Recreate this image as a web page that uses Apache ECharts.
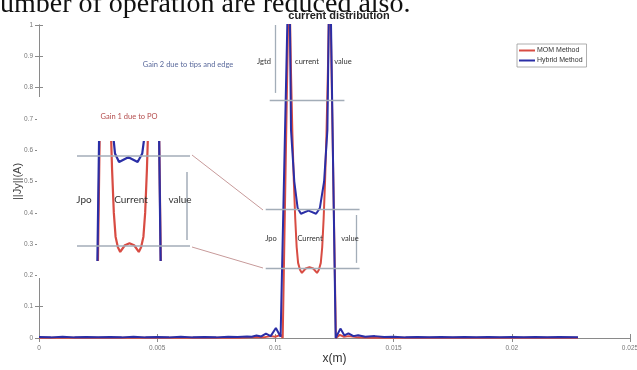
<!DOCTYPE html>
<html>
<head>
<meta charset="utf-8">
<script src="https://cdn.jsdelivr.net/npm/echarts@6/dist/echarts.min.js"></script>
<style>
  html, body { margin: 0; padding: 0; background: #fff; }
  #chart { width: 637px; height: 370px; }
</style>
</head>
<body>
<div id="chart"></div>
<script>
// tick labels
const xTickLabels = ['0', '0.005', '0.01', '0.015', '0.02', '0.025'];
const yTickLabels = ['0', '0.1', '0.2', '0.3', '0.4', '0.5', '0.6', '0.7', '0.8', '0.9', '1'];

// Hybrid Method, [x (m), ||Jy|| (A)]
const hybridPoints = [
  [0, 0.003], [0.0005, 0.002], [0.001, 0.004], [0.0015, 0.002], [0.002, 0.003], [0.0025, 0.002],
  [0.003, 0.003], [0.0035, 0.002], [0.004, 0.004], [0.0045, 0.002], [0.005, 0.003], [0.0055, 0.002],
  [0.006, 0.004], [0.0065, 0.002], [0.007, 0.003], [0.0075, 0.002], [0.008, 0.004], [0.0084, 0.003],
  [0.0088, 0.005], [0.009, 0.004], [0.0092, 0.008], [0.0094, 0.005], [0.0096, 0.014], [0.0098, 0.006],
  [0.01002, 0.032], [0.01022, 0.004], [0.01029, 0],
  [0.01058, 1.27], [0.01066, 0.665], [0.0108, 0.5], [0.01094, 0.415], [0.01108, 0.397],
  [0.0114, 0.407], [0.01172, 0.397], [0.01188, 0.415], [0.01206, 0.5], [0.0122, 0.665], [0.0123, 1.27],
  [0.01255, 0], [0.01262, 0.004], [0.01275, 0.03], [0.01292, 0.008], [0.01309, 0.015], [0.0133, 0.006],
  [0.0135, 0.009], [0.0138, 0.004], [0.0142, 0.006], [0.0146, 0.003], [0.015, 0.004], [0.0155, 0.002],
  [0.016, 0.003], [0.0165, 0.002], [0.017, 0.003], [0.0175, 0.002], [0.018, 0.003], [0.0185, 0.002],
  [0.019, 0.003], [0.0195, 0.002], [0.02, 0.003], [0.0205, 0.002], [0.021, 0.003], [0.0215, 0.002],
  [0.022, 0.003], [0.0228, 0.002]
];

// MOM Method
const momPoints = [
  [0, 0.001], [0.005, 0.001], [0.0085, 0.001], [0.0092, 0.003], [0.0095, 0.002], [0.0098, 0.006],
  [0.01, 0.004], [0.01022, 0.01], [0.01031, 0],
  [0.01058, 1.2], [0.01066, 0.85], [0.01072, 0.65], [0.01078, 0.5], [0.01084, 0.38], [0.0109, 0.29],
  [0.01096, 0.24], [0.01104, 0.218], [0.01112, 0.208], [0.01128, 0.222], [0.01144, 0.226],
  [0.0116, 0.222], [0.01176, 0.208], [0.01184, 0.218], [0.01192, 0.24], [0.01198, 0.29],
  [0.01204, 0.38], [0.0121, 0.5], [0.01216, 0.65], [0.01222, 0.85], [0.0123, 1.2],
  [0.01256, 0], [0.01272, 0.01], [0.0129, 0.004], [0.0131, 0.006], [0.0135, 0.002], [0.014, 0.001],
  [0.0228, 0.001]
];

// annotation guides drawn on the main axes (data coords)
const mainGuides = [
  [[0.01001, 1.0], [0.01001, 0.783]],
  [[0.00976, 0.76], [0.01292, 0.76]],
  [[0.00959, 0.411], [0.01356, 0.411]],
  [[0.00959, 0.224], [0.01356, 0.224]],
  [[0.01343, 0.393], [0.01343, 0.24]]
];
const insetLevels = [0.411, 0.224];
const insetBracket = [[0.013423, 0.376], [0.013423, 0.233]];

const RED = '#d84c43';
const BLUE = '#2a2ea6';
const GUIDE = '#a3adb8';
const AXIS = '#8a8a8a';
const FONT = 'Liberation Sans';

const chart = echarts.init(document.getElementById('chart'));

const guideLine = (pairs) => pairs.map((p) => [{ coord: p[0] }, { coord: p[1] }]);
const note = (text, x, y, size, fill) => ({
  type: 'text', x, y, z: 10,
  style: { text, font: size + 'px Lato', fill, align: 'center', verticalAlign: 'middle' }
});

chart.setOption({
  animation: false,
  title: {
    text: 'current distribution',
    left: 334,
    top: 5,
    textAlign: 'center',
    textStyle: { fontFamily: FONT, fontSize: 11, fontWeight: 'bold', color: '#222' }
  },
  legend: {
    data: ['MOM Method', 'Hybrid Method'],
    orient: 'vertical',
    left: 517,
    top: 44,
    icon: 'rect',
    itemWidth: 16,
    itemHeight: 2,
    itemGap: 3,
    padding: [3, 4, 3, 2],
    borderColor: '#9a9a9a',
    borderWidth: 0.8,
    backgroundColor: '#fff',
    textStyle: { fontFamily: FONT, fontSize: 7, color: '#333', padding: [0, 0, 0, -3] }
  },
  grid: [
    { left: 39, right: 7, top: 25, bottom: 32, outerBoundsMode: 'none' },
    { left: 77, width: 113, top: 142, height: 118, outerBoundsMode: 'none' }
  ],
  xAxis: [
    {
      gridIndex: 0, type: 'value', min: 0, max: 0.025, interval: 0.005,
      name: 'x(m)', nameLocation: 'middle', nameGap: 15, nameMoveOverlap: false,
      nameTextStyle: { fontFamily: FONT, fontSize: 12, color: '#333' },
      axisLine: { lineStyle: { color: AXIS, width: 1 } },
      axisTick: { inside: true, length: 4, lineStyle: { color: AXIS } },
      axisLabel: {
        fontFamily: FONT, fontSize: 6.5, color: '#777', margin: 7,
        formatter: (v) => xTickLabels[Math.round(v / 0.005)]
      },
      splitLine: { show: false }
    },
    {
      gridIndex: 0, type: 'value', min: 0, max: 0.025, interval: 0.005, position: 'top',
      axisLine: { lineStyle: { color: AXIS, width: 1 } },
      axisTick: { inside: true, length: 4, lineStyle: { color: AXIS } },
      axisLabel: { show: false },
      splitLine: { show: false }
    },
    { gridIndex: 1, type: 'value', min: 0.00963, max: 0.013526, show: false }
  ],
  yAxis: [
    {
      gridIndex: 0, type: 'value', min: 0, max: 1, interval: 0.1,
      name: '||Jy||(A)', nameLocation: 'middle', nameGap: 15.5, nameMoveOverlap: false,
      nameTextStyle: { fontFamily: FONT, fontSize: 11, color: '#444' },
      axisLine: { show: true, lineStyle: { color: AXIS, width: 1 } },
      axisTick: { show: true, inside: true, length: 4, lineStyle: { color: AXIS } },
      axisLabel: {
        fontFamily: FONT, fontSize: 6.5, color: '#777', margin: 6,
        formatter: (v) => yTickLabels[Math.round(v * 10)]
      },
      splitLine: { show: false }
    },
    {
      gridIndex: 0, type: 'value', min: 0, max: 1, interval: 0.1, position: 'right',
      axisLine: { show: true, lineStyle: { color: AXIS, width: 1 } },
      axisTick: { show: true, inside: true, length: 4, lineStyle: { color: AXIS } },
      axisLabel: { show: false },
      splitLine: { show: false }
    },
    { gridIndex: 1, type: 'value', min: 0.191, max: 0.439, show: false }
  ],
  series: [
    {
      name: 'MOM Method', type: 'line', xAxisIndex: 0, yAxisIndex: 0,
      data: momPoints, symbol: 'none', lineStyle: { color: RED, width: 2 }, itemStyle: { color: RED }
    },
    {
      name: 'Hybrid Method', type: 'line', xAxisIndex: 0, yAxisIndex: 0,
      data: hybridPoints, symbol: 'none', lineStyle: { color: BLUE, width: 2 }, itemStyle: { color: BLUE },
      markLine: {
        silent: true, symbol: 'none', label: { show: false },
        lineStyle: { color: GUIDE, width: 1.3, type: 'solid' },
        data: guideLine(mainGuides)
      }
    },
    {
      name: 'MOM Method', type: 'line', xAxisIndex: 2, yAxisIndex: 2, z: 4,
      data: momPoints, symbol: 'none', lineStyle: { color: RED, width: 2.2 }, itemStyle: { color: RED }
    },
    {
      name: 'Hybrid Method', type: 'line', xAxisIndex: 2, yAxisIndex: 2, z: 4,
      data: hybridPoints, symbol: 'none', lineStyle: { color: BLUE, width: 2.2 }, itemStyle: { color: BLUE },
      markLine: {
        silent: true, symbol: 'none', label: { show: false },
        lineStyle: { color: GUIDE, width: 1.5, type: 'solid' },
        data: insetLevels.map((v) => ({ yAxis: v })).concat([[{ coord: insetBracket[0] }, { coord: insetBracket[1] }]])
      }
    }
  ],
  graphic: [
    // cut-off line of the paper above the figure
    {
      type: 'text', left: -14, top: -9, z: 10,
      style: { text: 'number of operation are reduced also.', font: '28px "Liberation Serif"', fill: '#111' }
    },
    // pasted inset hides part of the left axis
    { type: 'rect', shape: { x: 37, y: 97, width: 10, height: 181 }, style: { fill: '#fff' }, z: 1 },
    { type: 'line', shape: { x1: 192, y1: 155, x2: 263, y2: 210 }, style: { stroke: '#c79a9a', lineWidth: 1 }, z: 5 },
    { type: 'line', shape: { x1: 192, y1: 247, x2: 263, y2: 268 }, style: { stroke: '#c79a9a', lineWidth: 1 }, z: 5 },
    note('Gain 2 due to tips and edge', 188, 65, 7.5, '#5b6a9c'),
    note('Gain 1 due to PO', 129, 117, 7.5, '#b44c4c'),
    note('Jgtd', 264, 62, 7.5, '#333'),
    note('current', 307, 62, 7.5, '#333'),
    note('value', 343, 62, 7.5, '#333'),
    note('Jpo', 271, 239, 7.5, '#333'),
    note('Current', 310, 239, 7.5, '#333'),
    note('value', 350, 239, 7.5, '#333'),
    note('Jpo', 84, 200, 10, '#333'),
    note('Current', 131, 200, 10, '#333'),
    note('value', 180, 200, 10, '#333')
  ]
});
</script>
</body>
</html>
